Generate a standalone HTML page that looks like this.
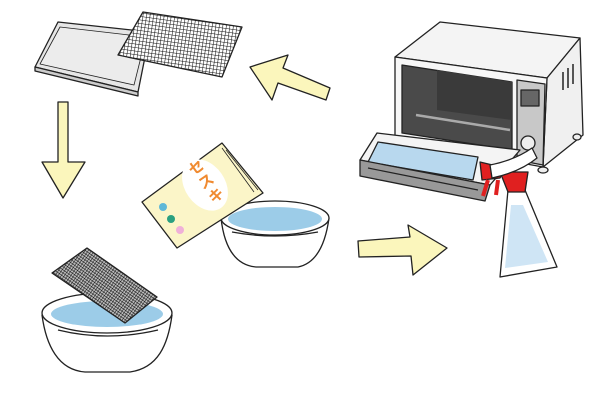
<!DOCTYPE html>
<html><head><meta charset="utf-8"><style>
html,body{margin:0;padding:0;background:#fff;width:600px;height:400px;overflow:hidden}
</style></head><body>
<svg width="600" height="400" viewBox="0 0 600 400" xmlns="http://www.w3.org/2000/svg">
<defs>
<pattern id="grid" width="3.5" height="3.5" patternUnits="userSpaceOnUse" patternTransform="rotate(8)">
<rect width="3.5" height="3.5" fill="#fff"/>
<path d="M0 0H3.5M0 0V3.5" stroke="#111" stroke-width="1.1"/>
</pattern>
<pattern id="grid2" width="2.6" height="2.6" patternUnits="userSpaceOnUse" patternTransform="rotate(35)">
<rect width="2.6" height="2.6" fill="#bbb"/>
<path d="M0 0H2.6M0 0V2.6" stroke="#111" stroke-width="1"/>
</pattern>
</defs>
<g stroke="#222" stroke-width="1.3" stroke-linejoin="round">
<!-- tray -->
<polygon points="58,22 150,32 138,92 35,67" fill="#e6e6e6"/>
<polygon points="60,27 146,37 134,85 40,64" fill="#ececec" stroke-width="0.8"/>
<polygon points="35,67 138,92 138,96 35,71" fill="#ccc"/>
<!-- rack -->
<polygon points="143,12 242,27 222,77 118,55" fill="url(#grid)"/>
<!-- arrows -->
<polygon points="250,67 288,55 283,68 330,88 326,100 278,83 272,100" fill="#fbf6bc"/>
<polygon points="58,102 68,102 68,162 85,162 63,198 42,162 58,162" fill="#fbf6bc"/>
<polygon points="358,241 410,237 408,225 447,248 413,275 411,256 359,257" fill="#fbf6bc"/>
<!-- right bowl -->
<path d="M221,218 C224,245 234,265 256,267 L298,267 C318,263 326,240 329,218 Z" fill="#fff"/>
<ellipse cx="275" cy="218" rx="54" ry="17" fill="#fff"/>
<ellipse cx="275" cy="219" rx="47" ry="12" fill="#9ccce8" stroke="none"/>
<path d="M232,232 Q275,240 318,232" fill="none"/>
<!-- bag -->
<polygon points="142,202 222,143 263,193 177,248" fill="#fbf5c8"/>
<path d="M226,150 L258,190 M222,148 L254,192" fill="none" stroke-width="0.8"/>
<ellipse cx="205" cy="185" rx="20" ry="28" fill="#fff" stroke="none" transform="rotate(-35 205 185)"/>
<text x="0" y="0" font-family="Liberation Sans,'Noto Sans CJK JP',sans-serif" font-weight="bold" font-size="15" fill="#f08a30" stroke="none" transform="translate(193,176) rotate(-35)">セ</text>
<text x="0" y="0" font-family="Liberation Sans,'Noto Sans CJK JP',sans-serif" font-weight="bold" font-size="15" fill="#f08a30" stroke="none" transform="translate(203,190) rotate(-35)">ス</text>
<text x="0" y="0" font-family="Liberation Sans,'Noto Sans CJK JP',sans-serif" font-weight="bold" font-size="15" fill="#f08a30" stroke="none" transform="translate(213,204) rotate(-35)">キ</text>
<circle cx="163" cy="207" r="4" fill="#5fb8d8" stroke="none"/>
<circle cx="171" cy="219" r="4" fill="#2aa080" stroke="none"/>
<circle cx="180" cy="230" r="4" fill="#f0b0d8" stroke="none"/>
<!-- left bowl -->
<path d="M42,315 C46,345 58,370 85,372 L130,372 C158,368 168,345 172,315 Z" fill="#fff"/>
<ellipse cx="107" cy="313" rx="65" ry="20" fill="#fff"/>
<ellipse cx="107" cy="314" rx="56" ry="13" fill="#9ccce8" stroke="none"/>
<path d="M58,330 Q107,342 158,330" fill="none"/>
<polygon points="52,273 87,248 157,297 125,323" fill="url(#grid2)"/>
<!-- oven -->
<polygon points="395,57 440,22 580,38 547,78" fill="#f4f4f4"/>
<polygon points="547,78 580,38 583,135 543,167" fill="#f0f0f0"/>
<polygon points="395,57 547,78 543,167 395,140" fill="#f7f7f7"/>
<polygon points="402,65 512,82 512,150 402,133" fill="#4a4a4a"/>
<polygon points="437,70 512,82 512,120 437,110" fill="#3a3a3a" stroke="none"/>
<line x1="416" y1="115" x2="510" y2="130" stroke="#aaa" stroke-width="2.5"/>
<polygon points="517,80 545,84 543,165 517,160" fill="#c8c8c8"/>
<rect x="521" y="90" width="18" height="16" fill="#666"/>
<circle cx="528" cy="143" r="7" fill="#eee"/>
<path d="M563,72 v18 M568,68 v20 M573,64 v20" fill="none" stroke-width="1.5"/>
<ellipse cx="577" cy="137" rx="4" ry="3" fill="#eee"/>
<ellipse cx="543" cy="170" rx="5" ry="3" fill="#eee"/>
<!-- door -->
<polygon points="377,133 520,150 490,185 360,160" fill="#f4f4f4"/>
<polygon points="378,142 478,157 473,180 368,162" fill="#b8d8ee"/>
<polygon points="360,160 490,185 485,201 360,176" fill="#999"/>
<line x1="368" y1="168" x2="478" y2="190" stroke-width="1.2"/>
<!-- spray -->
<polygon points="508,190 525,190 557,267 500,277" fill="#fff"/>
<polygon points="511,205 523,205 548,262 505,268" fill="#cfe5f5" stroke="none"/>
<polygon points="480,162 505,168 500,178 482,180" fill="#e02020"/>
<polygon points="500,172 528,172 525,192 508,192" fill="#e02020"/>
<path d="M488,180 L483,196 M498,180 L496,195" stroke="#e02020" stroke-width="4" fill="none"/>
<path d="M490,165 Q515,160 532,148 L537,158 Q520,172 492,178 Z" fill="#fff"/>
</g>
</svg>
</body></html>
